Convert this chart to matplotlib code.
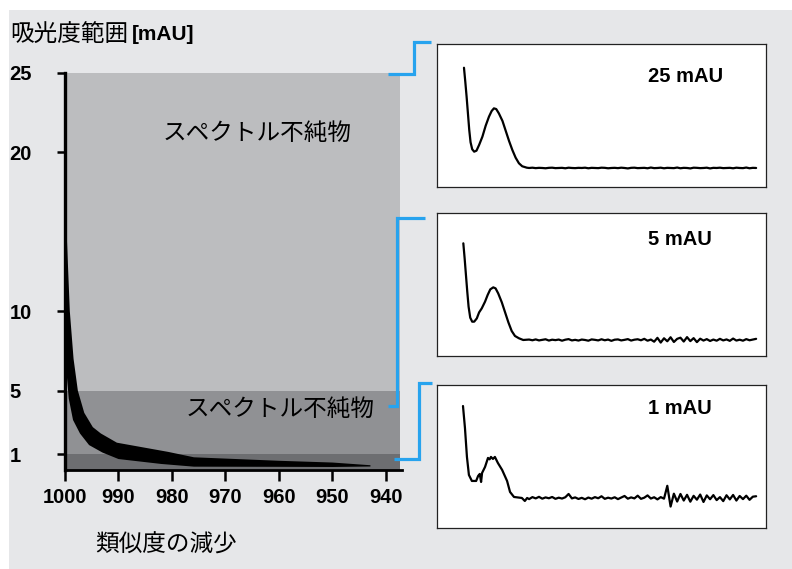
import numpy as np
import matplotlib
matplotlib.use("Agg")
import matplotlib.pyplot as plt
from matplotlib.patches import Rectangle
from matplotlib.lines import Line2D

# ---- data ----
similarity_ticks = [1000, 990, 980, 970, 960, 950, 940]
range_ticks = [1, 5, 10, 20, 25]
zone_bounds = [0, 1, 5, 25]
zone_colors = ["#6d6e71", "#909194", "#bcbdbf"]
zone_label = "スペクトル不純物"

# black band (outer edge then inner edge)
band_outer_x = [1000.0, 999.7, 999.1, 998.4, 997.6, 996.4, 994.8, 993.3, 990.3, 985.0, 980.7, 975.9, 960.0, 950.0, 942.9]
band_outer_y = [25.0, 15.0, 10.0, 7.0, 5.0, 3.6, 2.7, 2.3, 1.72, 1.40, 1.14, 0.80, 0.58, 0.47, 0.30]
band_inner_x = [942.9, 950.0, 960.0, 975.9, 982.0, 990.0, 993.0, 995.5, 997.2, 998.5, 999.3, 999.8, 1000.0, 1000.0]
band_inner_y = [0.22, 0.19, 0.20, 0.21, 0.38, 0.69, 1.10, 1.57, 2.30, 3.15, 4.50, 6.50, 10.0, 25.0]

# inset spectra, panel-relative units (0..100)
spec25_x = [8.2, 8.6, 9.0, 9.4, 9.8, 10.2, 10.7, 11.3, 12.0, 12.8, 13.8, 14.8, 15.8, 16.6, 17.3, 18.0,
            18.8, 19.9, 20.9, 21.9, 22.9, 23.9, 24.9, 25.9, 27.3]
spec25_y = [83.4, 73.6, 63.1, 51.5, 39.9, 31.3, 26.4, 24.7, 25.4, 29.4, 35.2, 42.9, 49.2, 53.1, 55.0, 54.5,
            51.5, 46.2, 39.2, 32.2, 25.9, 20.5, 16.6, 14.5, 13.5]
spec5_x = [8.0, 8.4, 8.8, 9.2, 9.6, 10.1, 10.7, 11.3, 12.1, 12.8, 13.6, 14.6, 15.4, 16.2, 17.1, 17.8,
           18.6, 19.7, 20.7, 21.7, 22.7, 23.7, 24.9, 26.2]
spec5_y = [78.8, 68.3, 56.6, 45.0, 34.5, 26.8, 24.0, 24.0, 26.3, 30.5, 33.3, 38.0, 42.7, 46.6, 48.0, 47.3,
           43.8, 37.5, 30.5, 23.5, 17.5, 14.0, 12.4, 11.2]
spec1_x = [7.9, 8.5, 9.1, 9.7, 10.6, 11.9, 12.5, 13.0, 13.4, 13.7, 14.6, 15.5, 16.0, 16.4, 17.0, 17.6,
           18.5, 19.8, 21.3, 22.2, 23.4, 25.8, 26.7, 27.4]
spec1_y = [85.3, 69.9, 49.7, 37.1, 32.9, 32.9, 36.4, 37.8, 32.2, 38.5, 42.7, 49.0, 48.0, 49.7, 48.3, 49.7,
           45.5, 40.6, 32.9, 25.2, 21.7, 21.0, 18.9, 21.0]

# baselines: level + wiggle read per unit step from x=28
base_start = 28
base25_level = 13.3
base25_off = [0.0, 0.2, -0.1, 0.1, 0.0, -0.2, 0.1, 0.2, -0.1, 0.0,
              0.1, -0.2, 0.2, 0.0, -0.1, 0.1, 0.0, 0.2, -0.2, 0.1,
              0.0, -0.1, 0.2, 0.1, -0.2, 0.0, 0.1, -0.1, 0.2, 0.0,
              -0.3, 0.1, 0.2, -0.1, 0.0, 0.1, -0.2, 0.3, -0.1, 0.0,
              0.2, -0.2, 0.1, 0.0, -0.1, 0.3, -0.2, 0.1, 0.0, -0.3,
              0.2, 0.1, -0.1, 0.0, 0.2, -0.3, 0.1, 0.0, 0.2, -0.1,
              0.0, 0.1, -0.2, 0.2, 0.0, -0.1, 0.3, -0.2, 0.1, 0.0]
base5_level = 11.2
base5_off = [0.3, -0.2, 0.4, -0.3, 0.1, 0.5, -0.4, 0.2, -0.1, 0.3,
             -0.5, 0.2, 0.6, -0.3, 0.1, -0.4, 0.3, 0.0, -0.5, 0.4,
             0.1, -0.3, 0.5, -0.2, 0.3, -0.6, 0.2, 0.4, -0.3, 0.1,
             0.6, -0.4, 0.2, 0.5, -0.2, 0.8, -0.5, 0.3, -1.2, 1.5,
             -1.8, 1.2, -0.9, 1.9, -1.4, 0.8, 1.6, -1.1, 2.0, -0.8,
             1.3, -1.5, 0.9, -0.4, 0.6, -0.7, 0.3, -0.5, 0.8, -0.3,
             0.4, -0.6, 1.0, -0.4, 0.2, -0.5, 0.6, -0.2, 0.3, 0.8]
base1_level = 21.0
base1_off = [-0.8, 0.6, -0.3, 0.8, -0.5, 0.4, -0.2, 0.7, -0.6, 0.2,
             -0.4, 0.5, 2.8, -0.3, 0.4, -0.7, 0.1, -0.9, 0.3, -0.5,
             0.6, -0.2, 1.2, -0.6, 0.2, -0.4, 0.5, -0.8, 0.3, 1.4,
             -0.5, 0.4, -0.3, 1.6, -0.6, 0.2, 1.8, -0.4, 0.5, -1.0,
             0.6, -0.5, 8.5, -6.0, 3.0, -2.5, 2.8, -1.8, 2.2, -2.6,
             1.5, -1.2, 2.4, -2.8, 1.8, -0.9, 2.0, -1.5, 0.6, -2.2,
             1.9, -1.0, 2.1, -1.8, 1.4, -0.8, 1.6, -1.3, 0.9, 1.2]

panel_labels = ["25 mAU", "5 mAU", "1 mAU"]

# ---- drawing ----
W, H = 792, 569
CJK = ["Noto Sans CJK JP", "DejaVu Sans"]
NUM = ["Liberation Sans", "DejaVu Sans"]
BLUE = "#27a3ee"


def fx(px):
    return px / W


def fy(py):
    return 1 - py / H


fig = plt.figure(figsize=(W / 100, H / 100), dpi=100)
fig.patch.set_facecolor("white")
fig.add_artist(Rectangle((fx(9), 0), 1 - fx(9), fy(10), transform=fig.transFigure,
                         facecolor="#e6e7e9", edgecolor="none", zorder=-10))

ax = fig.add_axes([fx(65), fy(470), fx(402) - fx(65), fy(73) - fy(470)])
ax.set_facecolor("none")
ax.set_xlim(1000, 937)
ax.set_ylim(0, 25)
for lo, hi, c in zip(zone_bounds[:-1], zone_bounds[1:], zone_colors):
    ax.axhspan(lo, hi, xmin=0, xmax=0.995, color=c, lw=0, zorder=0)

ax.fill(band_outer_x + band_inner_x, band_outer_y + band_inner_y, color="black", lw=0, zorder=2)

for s in ["top", "right"]:
    ax.spines[s].set_visible(False)
ax.spines["left"].set_linewidth(2.4)
ax.spines["bottom"].set_linewidth(2.0)
ax.spines["left"].set_zorder(3)

ax.set_xticks(similarity_ticks)
ax.set_xticklabels([str(t) for t in similarity_ticks])
ax.set_yticks(range_ticks)
ax.set_yticklabels([str(t) for t in range_ticks])
ax.tick_params(axis="x", length=8, width=1.8, pad=5)
ax.tick_params(axis="y", length=6, width=1.8, pad=34)
for lab in ax.get_xticklabels() + ax.get_yticklabels():
    lab.set_fontfamily(NUM)
    lab.set_fontweight("bold")
    lab.set_fontsize(14.5)
for lab in ax.get_yticklabels():
    lab.set_horizontalalignment("left")

ax.text(964.1, 21.2, zone_label, fontsize=17, family=CJK, ha="center", va="center", zorder=4)
ax.text(959.8, 3.78, zone_label, fontsize=17, family=CJK, ha="center", va="center", zorder=4)

fig.text(fx(10), fy(34), "吸光度範囲", fontsize=17, family=CJK, va="center")
fig.text(fx(132), fy(34), "[mAU]", fontsize=15, family=NUM, fontweight="bold", va="center")
fig.text(fx(166), fy(545), "類似度の減少", fontsize=17, family=CJK, ha="center", va="center")

# inset spectra
panels = [
    (44, spec25_x, spec25_y, base25_level, base25_off, 76),
    (213, spec5_x, spec5_y, base5_level, base5_off, 239),
    (385, spec1_x, spec1_y, base1_level, base1_off, 409),
]
for (top, sx, sy, level, off, label_y), label in zip(panels, panel_labels):
    pax = fig.add_axes([fx(437), fy(top + 143), fx(766) - fx(437), fy(top) - fy(top + 143)])
    pax.set_facecolor("white")
    bx = list(np.arange(len(off)) + base_start)
    by = [level + o for o in off]
    pax.plot(list(sx) + bx, list(sy) + by, color="black", lw=1.6,
             solid_joinstyle="round", solid_capstyle="round")
    pax.set_xlim(0, 100)
    pax.set_ylim(0, 100)
    pax.set_xticks([])
    pax.set_yticks([])
    for s in pax.spines.values():
        s.set_linewidth(0.9)
        s.set_edgecolor("#222222")
    pax.text(0.641, (top + 143 - label_y) / 143, label, transform=pax.transAxes,
             fontsize=14.5, family=NUM, fontweight="bold", va="center", ha="left")

# blue connector brackets (figure pixels)
brackets = [
    [(388, 74), (414, 74), (414, 42), (431, 42)],
    [(388, 406), (397, 406), (397, 218), (425, 218)],
    [(394, 459), (419, 459), (419, 383), (432, 383)],
]
for pts in brackets:
    xs = [fx(p[0]) for p in pts]
    ys = [fy(p[1]) for p in pts]
    fig.add_artist(Line2D(xs, ys, transform=fig.transFigure, color=BLUE, lw=2.3,
                          solid_joinstyle="miter", solid_capstyle="butt"))

fig.savefig("out.png", dpi=100)
